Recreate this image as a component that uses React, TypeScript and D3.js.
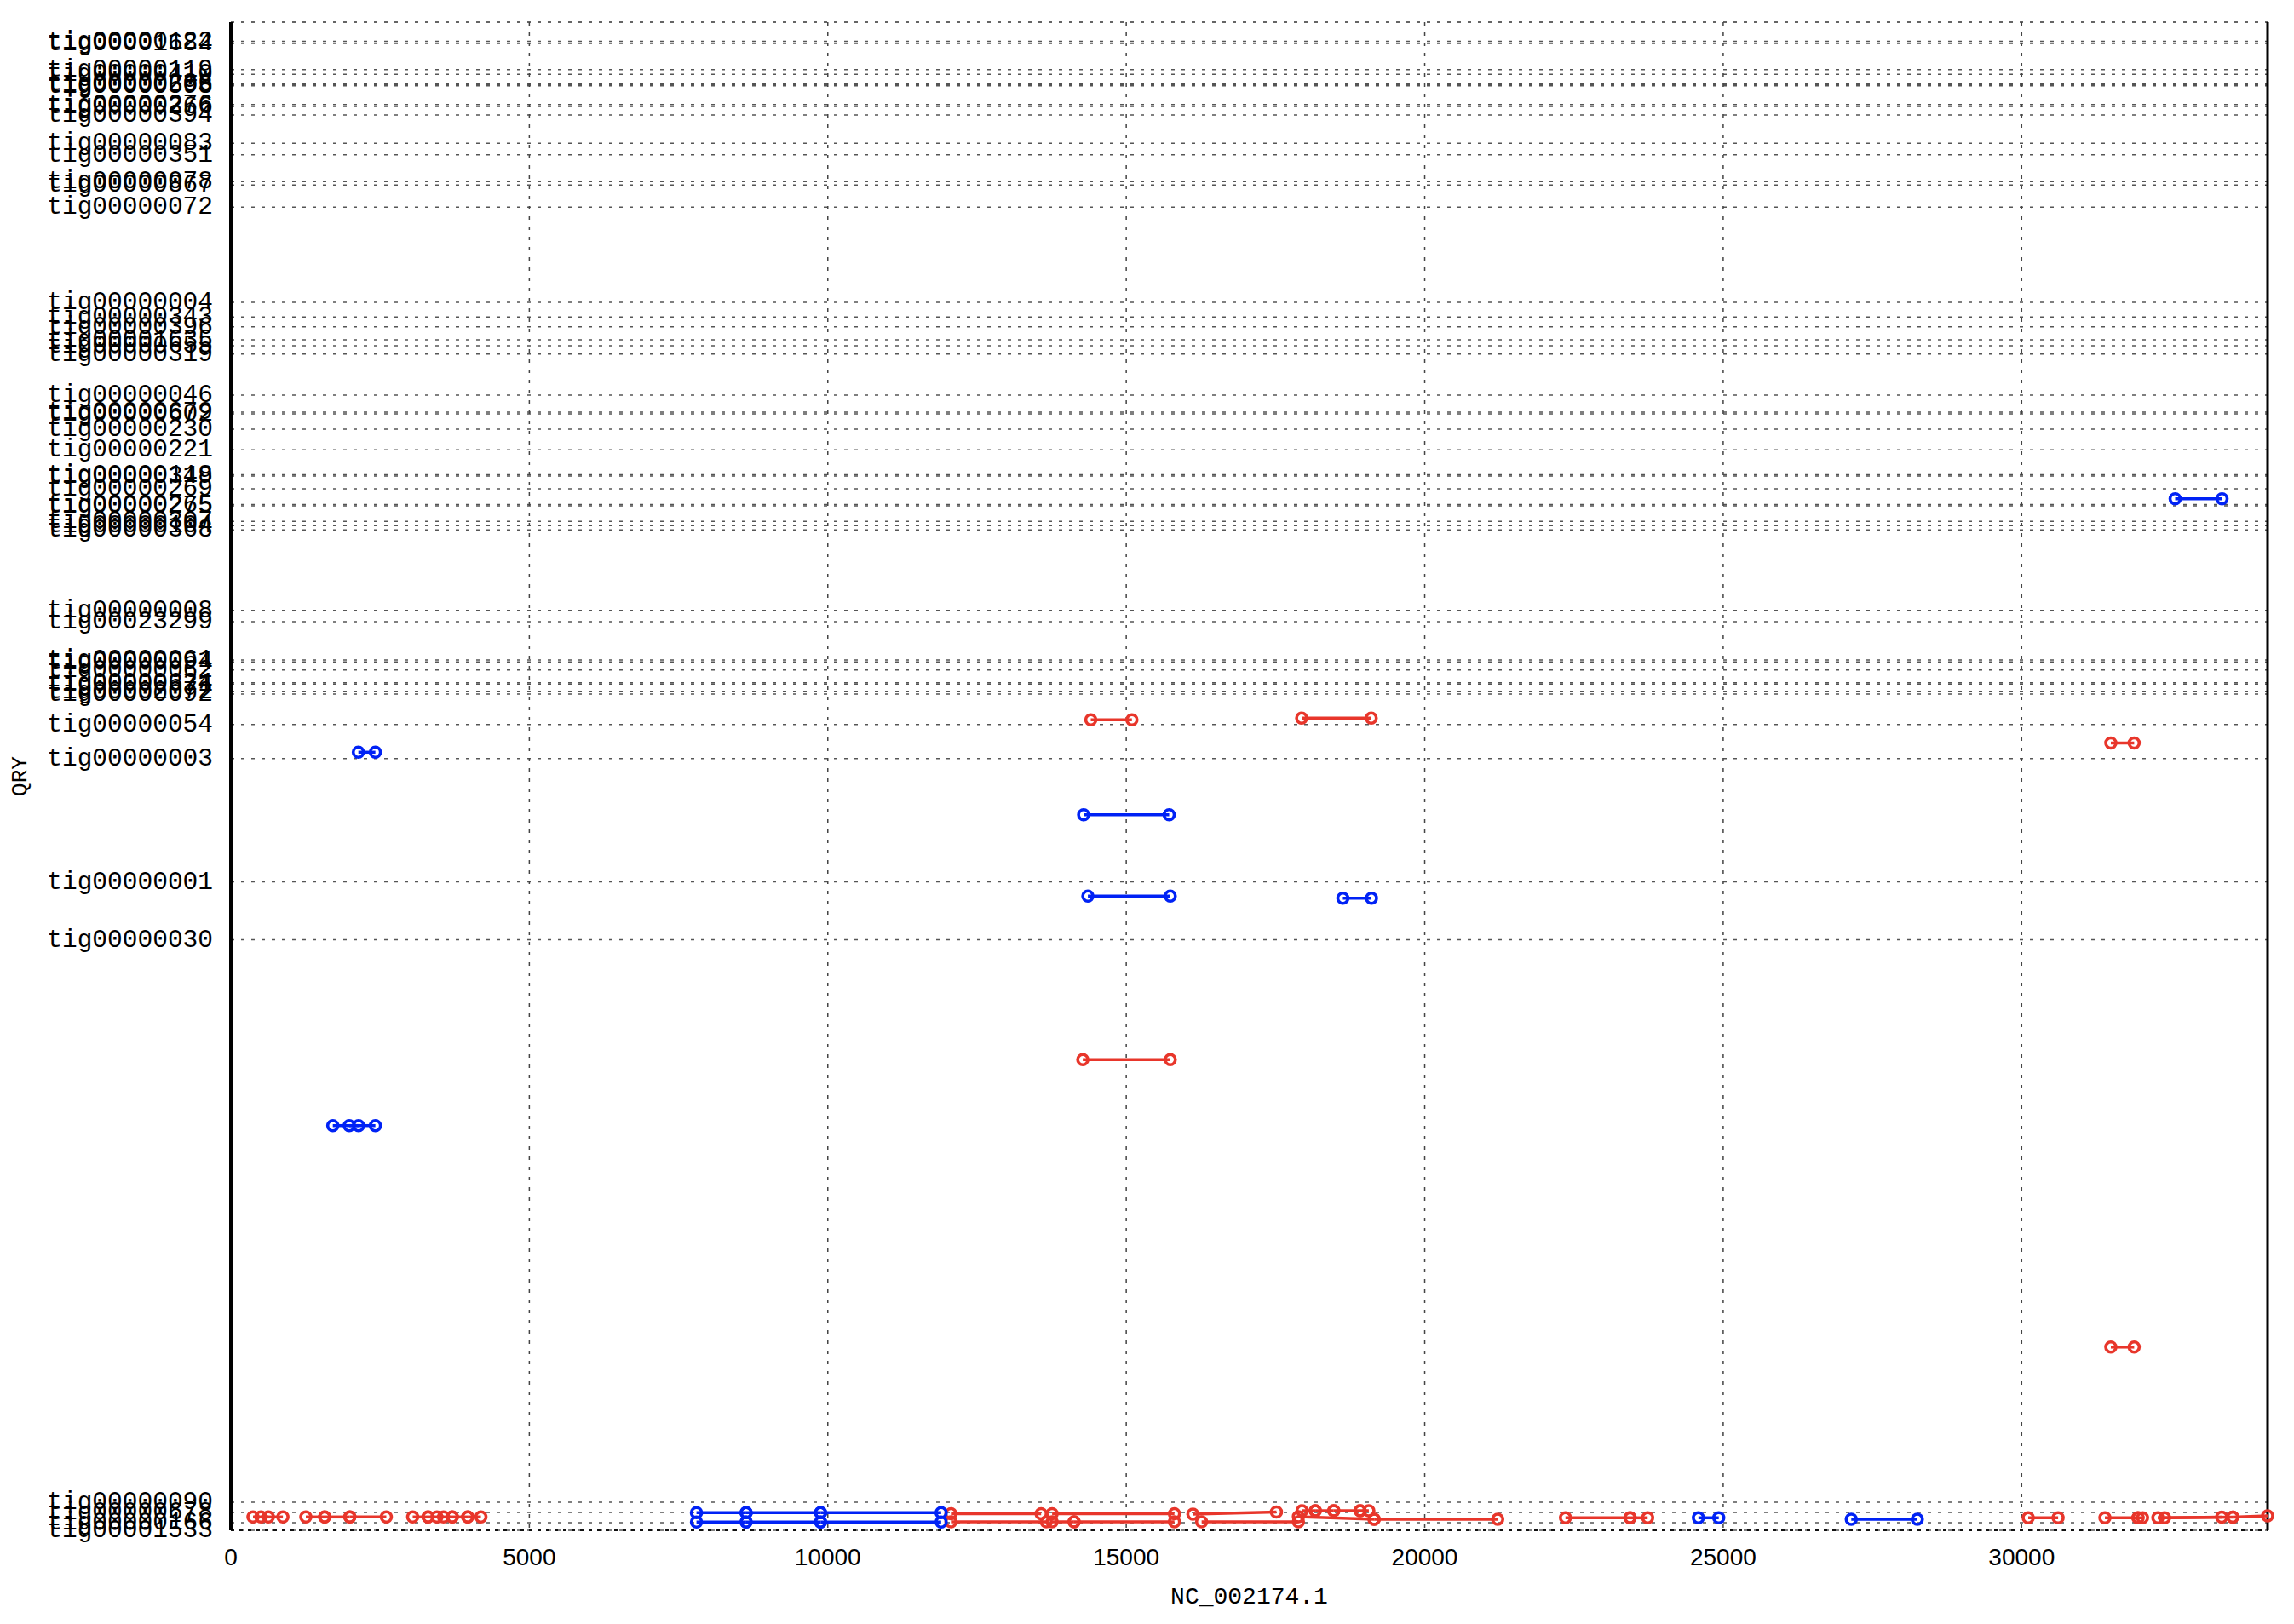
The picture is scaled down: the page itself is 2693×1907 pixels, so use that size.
import React from "react";
import * as d3 from "d3";

// ---------- data ----------
const REF_NAME = "NC_002174.1";
const QRY_NAME = "QRY";
const REF_LEN = 34120;
const QRY_LEN = 177100;
const refTicks = [0, 5000, 10000, 15000, 20000, 25000, 30000];

const qryTickNames = [
  "tig00000122", "tig00001684", "tig00000119", "tig00000410", "tig00000286",
  "tig00000605", "tig00000598", "tig00000276", "tig00000266", "tig00000394",
  "tig00000083", "tig00000351", "tig00000078", "tig00000867", "tig00000072",
  "tig00000004", "tig00000343", "tig00000396", "tig00001635", "tig00000655",
  "tig00000319", "tig00000046", "tig00000679", "tig00000602", "tig00000230",
  "tig00000221", "tig00000118", "tig00000349", "tig00000269", "tig00000265",
  "tig00000275", "tig00000307", "tig00000104", "tig00000368", "tig00000008",
  "tig00023299", "tig00000061", "tig00000094", "tig00000062", "tig00000624",
  "tig00000371", "tig00002072", "tig00000092", "tig00000054", "tig00000003",
  "tig00000001", "tig00000030", "tig00000090", "tig00000678", "tig00000166",
  "tig00001533",
];
const qryTickPos = [
  174850, 174600, 171530, 170970, 169870,
  169750, 169630, 167430, 167200, 166200,
  162870, 161530, 158370, 157970, 155370,
  144200, 142470, 141330, 139800, 139100,
  138130, 133300, 131300, 131100, 129300,
  126870, 123950, 123800, 122300, 120450,
  120300, 118470, 117970, 117470, 108030,
  106700, 102200, 101970, 101030, 99530,
  99370, 98470, 98200, 94630, 90630,
  76150, 69350, 3300, 2100, 900,
  0,
];

// alignments: [refStart, refEnd, qryStart, qryEnd]
const forwardHits: number[][] = [
  [14406, 15095, 95170, 95170],
  [17939, 19104, 95370, 95370],
  [31494, 31885, 92450, 92450],
  [14272, 15737, 55270, 55270],
  [31494, 31885, 21520, 21520],
  [371, 629, 1570, 1570],
  [503, 872, 1570, 1570],
  [1256, 1572, 1570, 1570],
  [1572, 1993, 1570, 1570],
  [1993, 2604, 1570, 1570],
  [3046, 3304, 1570, 1570],
  [3304, 3563, 1570, 1570],
  [3452, 3710, 1570, 1570],
  [3710, 3968, 1570, 1570],
  [3968, 4189, 1570, 1570],
  [12063, 13574, 1950, 1950],
  [13758, 15807, 1950, 1950],
  [12063, 13660, 1000, 1000],
  [13758, 14126, 1000, 1000],
  [14126, 15807, 1000, 1000],
  [16117, 17516, 1900, 2150],
  [16263, 17884, 1000, 1000],
  [17946, 18167, 2300, 2300],
  [18167, 18477, 2300, 2300],
  [18477, 18918, 2300, 2300],
  [18918, 19064, 2300, 2300],
  [17884, 19153, 1600, 1300],
  [19153, 21223, 1300, 1300],
  [22358, 23440, 1470, 1470],
  [23440, 23735, 1470, 1470],
  [30110, 30611, 1470, 1470],
  [31395, 31949, 1470, 1470],
  [31949, 32025, 1470, 1470],
  [32282, 33352, 1470, 1550],
  [32394, 33536, 1470, 1550],
  [33536, 34120, 1550, 1700],
];

const reverseHits: number[][] = [
  [32572, 33357, 121130, 121130],
  [2136, 2421, 91370, 91370],
  [14286, 15719, 84030, 84030],
  [14357, 15737, 74470, 74470],
  [18629, 19108, 74230, 74230],
  [1708, 2140, 47530, 47530],
  [1983, 2421, 47530, 47530],
  [7800, 8632, 2070, 2070],
  [8632, 9879, 2070, 2070],
  [9879, 11899, 2070, 2070],
  [7800, 8632, 970, 970],
  [8632, 9879, 970, 970],
  [9879, 11899, 970, 970],
  [24585, 24926, 1470, 1470],
  [27146, 28252, 1300, 1300],
];

// ---------- layout ----------
const W = 2693;
const H = 1907;
const M = { left: 271, right: W - 2662, top: 26, bottom: H - 1797 };
const RED = "#e8362b";
const BLUE = "#0022f5";

export default function App() {
  const x = d3.scaleLinear().domain([0, REF_LEN]).range([M.left, W - M.right]);
  const y = d3.scaleLinear().domain([0, QRY_LEN]).range([H - M.bottom, M.top]);
  const x0 = M.left;
  const x1 = W - M.right;
  const y0 = H - M.bottom;
  const y1 = M.top;
  const monoFont = "'Liberation Mono', 'DejaVu Sans Mono', monospace";

  const drawHits = (hits: number[][], color: string, key: string) => (
    <g key={key}>
      {hits.map((h, i) => (
        <line
          key={"l" + i}
          x1={x(h[0])}
          x2={x(h[1])}
          y1={y(h[2])}
          y2={y(h[3])}
          stroke={color}
          strokeWidth={3.5}
        />
      ))}
      {hits.map((h, i) => (
        <g key={"p" + i}>
          <circle cx={x(h[0])} cy={y(h[2])} r={6} fill="none" stroke={color} strokeWidth={3.6} />
          <circle cx={x(h[1])} cy={y(h[3])} r={6} fill="none" stroke={color} strokeWidth={3.6} />
        </g>
      ))}
    </g>
  );

  return (
    <svg
      width={W}
      height={H}
      style={{ position: "absolute", left: 0, top: 0, background: "#fff" }}
      xmlns="http://www.w3.org/2000/svg"
    >
      <rect x={0} y={0} width={W} height={H} fill="#fff" />
      {/* horizontal grid */}
      {qryTickPos.map((v, i) => (
        <line
          key={"hg" + i}
          x1={x0}
          x2={x1}
          y1={y(v)}
          y2={y(v)}
          stroke="#555"
          strokeWidth={1.5}
          strokeDasharray="4,8"
        />
      ))}
      <line x1={x0} x2={x1} y1={y1} y2={y1} stroke="#333" strokeWidth={1.5} strokeDasharray="4,8" />
      <line x1={x0} x2={x1} y1={y0} y2={y0} stroke="#111" strokeWidth={2} strokeDasharray="4,6" />
      {/* vertical grid */}
      {refTicks.slice(1).map((v, i) => (
        <line
          key={"vg" + i}
          x1={x(v)}
          x2={x(v)}
          y1={y1}
          y2={y0}
          stroke="#444"
          strokeWidth={1.5}
          strokeDasharray="4,8"
        />
      ))}
      {/* borders */}
      <line x1={x0} x2={x0} y1={y1} y2={y0} stroke="#000" strokeWidth={4} />
      <line x1={x1} x2={x1} y1={y1} y2={y0} stroke="#000" strokeWidth={3} />

      {/* data */}
      {drawHits(forwardHits, RED, "fwd")}
      {drawHits(reverseHits, BLUE, "rev")}

      {/* y tick labels */}
      {qryTickNames.map((name, i) => (
        <text
          key={"yl" + i}
          x={250}
          y={y(qryTickPos[i])}
          textAnchor="end"
          dominantBaseline="central"
          fontFamily={monoFont}
          fontSize={29.5}
          fill="#000"
        >
          {name}
        </text>
      ))}
      {/* x tick labels */}
      {refTicks.map((v, i) => (
        <text
          key={"xl" + i}
          x={x(v)}
          y={1828}
          textAnchor="middle"
          dominantBaseline="central"
          fontFamily="'Liberation Sans', Arial, sans-serif"
          fontSize={28}
          fill="#000"
        >
          {v}
        </text>
      ))}
      {/* axis titles */}
      <text
        x={(x0 + x1) / 2}
        y={1875}
        textAnchor="middle"
        dominantBaseline="central"
        fontFamily={monoFont}
        fontSize={28}
        fill="#000"
      >
        {REF_NAME}
      </text>
      <text
        transform={`translate(24, ${(y0 + y1) / 2}) rotate(-90)`}
        textAnchor="middle"
        dominantBaseline="central"
        fontFamily={monoFont}
        fontSize={26}
        fill="#000"
      >
        {QRY_NAME}
      </text>
    </svg>
  );
}
